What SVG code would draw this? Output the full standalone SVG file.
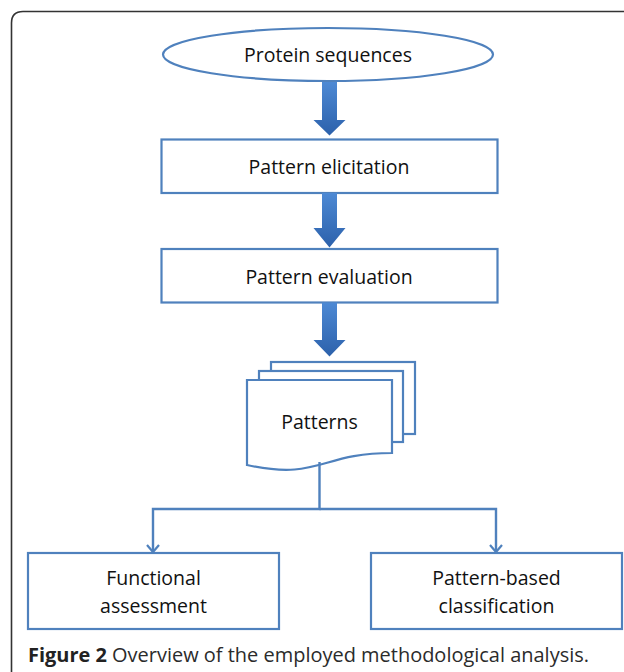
<svg xmlns="http://www.w3.org/2000/svg" width="624" height="672" viewBox="0 0 624 672">
  <defs>
    <linearGradient id="blockGrad" x1="0" y1="0" x2="0" y2="1">
      <stop offset="0" stop-color="#4d89d4"/>
      <stop offset="1" stop-color="#2c61ab"/>
    </linearGradient>
    <marker id="chev" viewBox="-9 -7 11 14" refX="0" refY="0" markerWidth="11" markerHeight="14" markerUnits="userSpaceOnUse" orient="auto">
      <path d="M-7,-6 L0,0 L-7,6" fill="none" stroke="#4f81bd" stroke-width="2.2" stroke-linejoin="miter"/>
    </marker>
  </defs>
  <style>
    .shape { fill: #ffffff; stroke: #4f81bd; stroke-width: 2.2; }
    .lbl { font-family: "Open Sans", "Liberation Sans", sans-serif; font-size: 19.5px; fill: #111111; text-anchor: middle; }
    .conn { fill: none; stroke: #4f81bd; stroke-width: 2.4; }
    .block { fill: url(#blockGrad); }
    .cap { font-family: "Open Sans", "Liberation Sans", sans-serif; font-size: 19.5px; fill: #2b2b2b; }
  </style>
  <rect width="624" height="672" fill="#ffffff"/>
  <path d="M11.5,672 V23 Q11.5,11.5 23,11.5 H624" fill="none" stroke="#333333" stroke-width="1.6"/>

  <g id="protein-sequences">
    <ellipse class="shape" cx="328" cy="54.5" rx="165" ry="26.5"/>
    <text class="lbl" x="328" y="62">Protein sequences</text>
  </g>

  <g id="pattern-elicitation">
    <rect class="shape" x="161.5" y="139.5" width="336" height="53.5"/>
    <text class="lbl" x="329" y="174">Pattern elicitation</text>
  </g>

  <g id="pattern-evaluation">
    <rect class="shape" x="161.5" y="249" width="336" height="53.5"/>
    <text class="lbl" x="329" y="284">Pattern evaluation</text>
  </g>

  <g id="patterns">
    <rect class="shape" x="271" y="362" width="144" height="72"/>
    <rect class="shape" x="259" y="371" width="144" height="71"/>
    <path class="shape" d="M247,380 H392 V453 C319.5,453 319.5,480.7 247,465 Z"/>
    <text class="lbl" x="319.5" y="429">Patterns</text>
  </g>

  <g id="functional-assessment">
    <rect class="shape" x="28" y="553" width="251" height="76"/>
    <text class="lbl" x="153.5" y="585">Functional</text>
    <text class="lbl" x="153.5" y="613">assessment</text>
  </g>

  <g id="pattern-based-classification">
    <rect class="shape" x="371" y="553" width="251" height="76"/>
    <text class="lbl" x="496.5" y="585">Pattern-based</text>
    <text class="lbl" x="496.5" y="613">classification</text>
  </g>

  <g id="connectors">
    <path class="block" d="M322,82 H337 V120 H345.5 L329.5,135.5 L313.5,120 H322 Z"/>
    <path class="block" d="M322,193 H337 V228 H345.5 L329.5,247.5 L313.5,228 H322 Z"/>
    <path class="block" d="M322,302.5 H337 V340 H345.5 L329.5,356.5 L313.5,340 H322 Z"/>
    <path class="conn" d="M319.5,462 V509 H153 V552" marker-end="url(#chev)"/>
    <path class="conn" d="M319.5,509 H496 V552" marker-end="url(#chev)"/>
  </g>

  <text class="cap" x="28" y="662" textLength="561" lengthAdjust="spacingAndGlyphs"><tspan font-weight="bold" fill="#222222">Figure 2</tspan> Overview of the employed methodological analysis.</text>
</svg>
